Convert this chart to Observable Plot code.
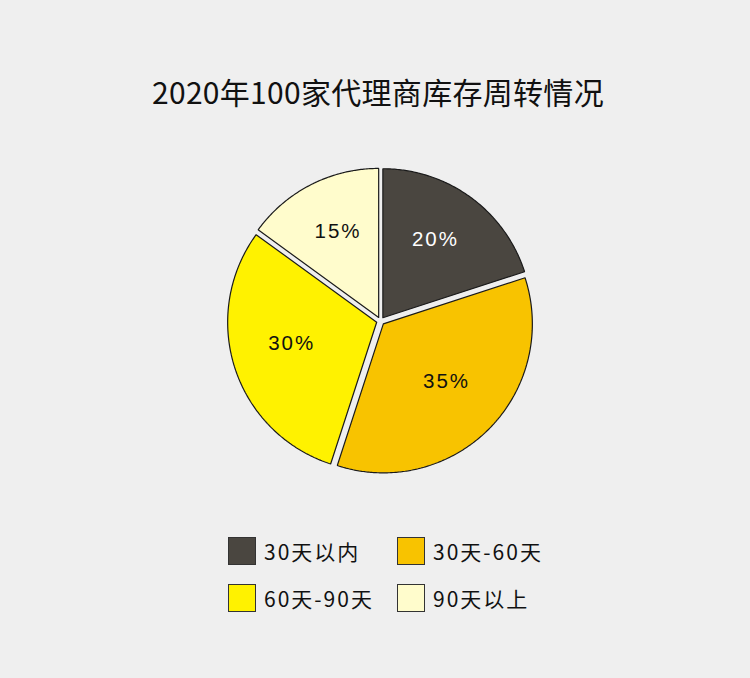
<!DOCTYPE html>
<html>
<head>
<meta charset="utf-8">
<script src="https://cdn.jsdelivr.net/npm/d3@7"></script>
<script src="https://cdn.jsdelivr.net/npm/@observablehq/plot@0.6"></script>
<style>
  html, body { margin: 0; padding: 0; background: #efefef; }
  body { width: 750px; height: 678px; overflow: hidden; font-family: "Noto Sans CJK SC", "Noto Sans", sans-serif; }
  #title { height: 150px; box-sizing: border-box; padding-top: 72px; text-align: center; font-size: 30px; color: #111; line-height: 38px; padding-left: 6px; letter-spacing: 0.3px; }
  #legend { position: absolute; left: 228px; top: 537px; display: grid; grid-template-columns: 169px 169px; row-gap: 19px; }
  .item { display: flex; align-items: center; height: 28px; }
  .sw { width: 26px; height: 26px; border: 1px solid #333; margin-right: 8px; }
  .lab { font-size: 21px; letter-spacing: 2px; color: #111; }
</style>
</head>
<body>
<div id="title"></div>
<div id="chart"></div>
<div id="legend"></div>
<script>
const titleText = "2020年100家代理商库存周转情况";
const categories = ["30天以内", "30天-60天", "60天-90天", "90天以上"];
const shares = [20, 35, 30, 15];
const colors = ["#4a4640", "#f8c300", "#fff200", "#fffccc"];
const labelColors = ["#ffffff", "#111111", "#111111", "#111111"];

document.getElementById("title").textContent = titleText;

const explode = 0.027;
const pie = d3.pie().sort(null).value(d => d.value).startAngle(0).endAngle(2 * Math.PI);
const arcs = pie(categories.map((name, i) => ({name, value: shares[i], i})));

const outline = [];
const labels = [];
for (const a of arcs) {
  const mid = (a.startAngle + a.endAngle) / 2;
  const ox = explode * Math.sin(mid), oy = explode * Math.cos(mid);
  const pts = [[ox, oy]];
  const n = Math.max(8, Math.ceil((a.endAngle - a.startAngle) / 0.01));
  for (let k = 0; k <= n; k++) {
    const t = a.startAngle + (a.endAngle - a.startAngle) * k / n;
    pts.push([ox + Math.sin(t), oy + Math.cos(t)]);
  }
  pts.push([ox, oy]);
  pts.forEach(([x, y], j) => outline.push({name: a.data.name, x, y, j}));
  labels.push({name: a.data.name, text: a.data.value + "%", x: ox + 0.6 * Math.sin(mid), y: oy + 0.6 * Math.cos(mid) + 0.04, i: a.data.i});
}

const cx = 380, cy = 170.5, r = 149;
const chart = Plot.plot({
  width: 750,
  height: 330,
  margin: 0,
  style: {background: "transparent", overflow: "visible"},
  x: {domain: [-1, 1], range: [cx - r, cx + r], axis: null},
  y: {domain: [-1, 1], range: [cy + r, cy - r], axis: null},
  color: {domain: categories, range: colors},
  marks: [
    Plot.line(outline, {x: "x", y: "y", z: "name", fill: "name", stroke: "#1a1a1a", strokeWidth: 1.2, strokeLinejoin: "miter", curve: "linear"}),
    Plot.text(labels, {x: "x", y: "y", text: "text", fill: d => labelColors[d.i], fontSize: 20.5, fontFamily: "Liberation Sans, Arial, sans-serif"})
  ]
});
chart.querySelectorAll("text").forEach(t => t.style.letterSpacing = "2px");
document.getElementById("chart").appendChild(chart);

const legend = document.getElementById("legend");
categories.forEach((c, i) => {
  const it = document.createElement("div");
  it.className = "item";
  const sw = document.createElement("div");
  sw.className = "sw";
  sw.style.background = colors[i];
  const lb = document.createElement("span");
  lb.className = "lab";
  lb.textContent = c;
  it.appendChild(sw); it.appendChild(lb);
  legend.appendChild(it);
});
</script>
</body>
</html>
